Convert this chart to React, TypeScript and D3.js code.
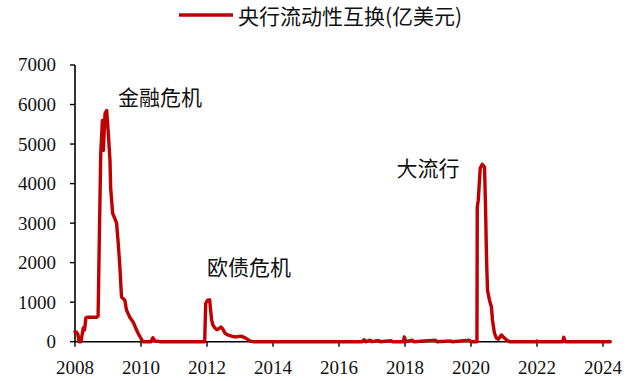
import React from "react";
import * as d3 from "d3";

// Central bank liquidity swaps outstanding, USD 100m (decimal year, value)
const swapDates: number[] = [
  2008.0, 2008.05, 2008.09, 2008.12, 2008.18, 2008.25, 2008.29, 2008.33, 2008.37, 2008.5,
  2008.66, 2008.7, 2008.74, 2008.78, 2008.83, 2008.86, 2008.91, 2008.96, 2009.01, 2009.06,
  2009.08, 2009.14, 2009.19, 2009.26, 2009.31, 2009.36, 2009.41, 2009.51, 2009.56, 2009.66,
  2009.76, 2009.87, 2009.92, 2010.02, 2010.06, 2010.3, 2010.36, 2010.42,
  2010.6, 2011.0, 2011.93, 2011.96, 2012.02, 2012.08, 2012.11, 2012.14, 2012.18, 2012.24,
  2012.3, 2012.36, 2012.42, 2012.48, 2012.54, 2012.63, 2012.75, 2012.84, 2012.93, 2013.05,
  2013.17, 2013.3, 2013.4, 2014.0, 2015.0, 2016.0, 2016.7, 2016.76, 2016.82, 2016.95,
  2017.0, 2017.2, 2017.25, 2017.58, 2017.63, 2017.95, 2017.98, 2018.03, 2018.22, 2018.27,
  2018.92, 2018.97, 2019.38, 2019.43, 2019.95, 2020.0, 2020.18, 2020.19, 2020.22, 2020.28,
  2020.34, 2020.41, 2020.44, 2020.47, 2020.5, 2020.56, 2020.62, 2020.65, 2020.71, 2020.77,
  2020.83, 2020.92, 2020.98, 2021.07, 2021.16, 2021.97, 2022.0, 2022.05, 2022.78, 2022.81,
  2022.86, 2023.5, 2024.22,
];
const swapValues: number[] = [
  250, 240, 180, 0, 0, 345, 300, 600, 620, 620,
  620, 650, 2750, 4760, 5600, 4840, 5770, 5850, 5270, 4590,
  3900, 3250, 3150, 3000, 2490, 1890, 1130, 1050, 800, 620,
  500, 290, 200, 50, 0, 0, 100, 20,
  0, 0, 0, 970, 1050, 1060, 800, 550, 420, 345,
  300, 330, 370, 320, 220, 170, 140, 120, 130, 140,
  90, 20, 0, 0, 0, 0, 0, 50, 0, 40,
  0, 30, 0, 25, 0, 0, 120, 0, 40, 0,
  40, 0, 20, 0, 40, 0, 0, 3400, 3580, 4390,
  4490, 4420, 3410, 2140, 1300, 1050, 880, 550, 220, 90,
  60, 170, 120, 50, 0, 0, 20, 0, 0, 110,
  0, 0, 0,
];

const yTicks: number[] = [0, 1000, 2000, 3000, 4000, 5000, 6000, 7000];
const xTicks: number[] = [2008, 2010, 2012, 2014, 2016, 2018, 2020, 2022, 2024];

const seriesName = "央行流动性互换(亿美元)";
const eventLabels: { text: string; year: number; value: number }[] = [
  { text: "金融危机", year: 2009.3, value: 6000 },
  { text: "欧债危机", year: 2012.0, value: 1700 },
  { text: "大流行", year: 2017.74, value: 4200 },
];

const W = 640;
const H = 381;
const RED = "#C00000";
const CJK = "'Noto Sans CJK SC', 'Noto Sans', sans-serif";
const SERIF = "'Liberation Serif', 'Times New Roman', serif";

export default function App() {
  const x = d3.scaleLinear().domain([2008, 2024]).range([75, 603]);
  const y = d3.scaleLinear().domain([0, 7000]).range([341.7, 65]);

  const points: [number, number][] = swapDates.map((d, i) => [d, swapValues[i]]);
  const line = d3
    .line<[number, number]>()
    .x((d) => x(d[0]))
    .y((d) => y(d[1]))
    .curve(d3.curveLinear);

  return (
    <svg
      width={W}
      height={H}
      viewBox={`0 0 ${W} ${H}`}
      style={{ position: "absolute", left: 0, top: 0, background: "#fff" }}
    >
      <rect width={W} height={H} fill="#fff" />

      {/* legend */}
      <line x1={179} x2={233} y1={15} y2={15} stroke={RED} strokeWidth={3.4} />
      <text x={238} y={23.5} fontFamily={CJK} fontSize={21} fill="#111">
        {seriesName}
      </text>

      {/* y axis */}
      <line x1={x(2008)} x2={x(2008)} y1={y(7000)} y2={y(0)} stroke="#000" strokeWidth={1.6} />
      {yTicks.map((t) => (
        <g key={t}>
          <line x1={x(2008) - 5} x2={x(2008)} y1={y(t)} y2={y(t)} stroke="#000" strokeWidth={1.4} />
          <text
            x={56}
            y={y(t)}
            dy="0.34em"
            textAnchor="end"
            fontFamily={SERIF}
            fontSize={19}
            fill="#111"
          >
            {t}
          </text>
        </g>
      ))}

      {/* x axis */}
      <line x1={x(2008)} x2={x(2024)} y1={y(0)} y2={y(0)} stroke="#000" strokeWidth={1.6} />
      {xTicks.map((t) => (
        <g key={t}>
          <line x1={x(t)} x2={x(t)} y1={y(0)} y2={y(0) + 5} stroke="#000" strokeWidth={1.4} />
          <text
            x={x(t)}
            y={374}
            textAnchor="middle"
            fontFamily={SERIF}
            fontSize={19}
            fill="#111"
          >
            {t}
          </text>
        </g>
      ))}

      {/* series */}
      <path
        d={line(points) ?? ""}
        fill="none"
        stroke={RED}
        strokeWidth={3.4}
        strokeLinejoin="round"
        strokeLinecap="round"
      />

      {/* event annotations */}
      {eventLabels.map((e) => (
        <text key={e.text} x={x(e.year)} y={y(e.value)} fontFamily={CJK} fontSize={21} fill="#111">
          {e.text}
        </text>
      ))}
    </svg>
  );
}
